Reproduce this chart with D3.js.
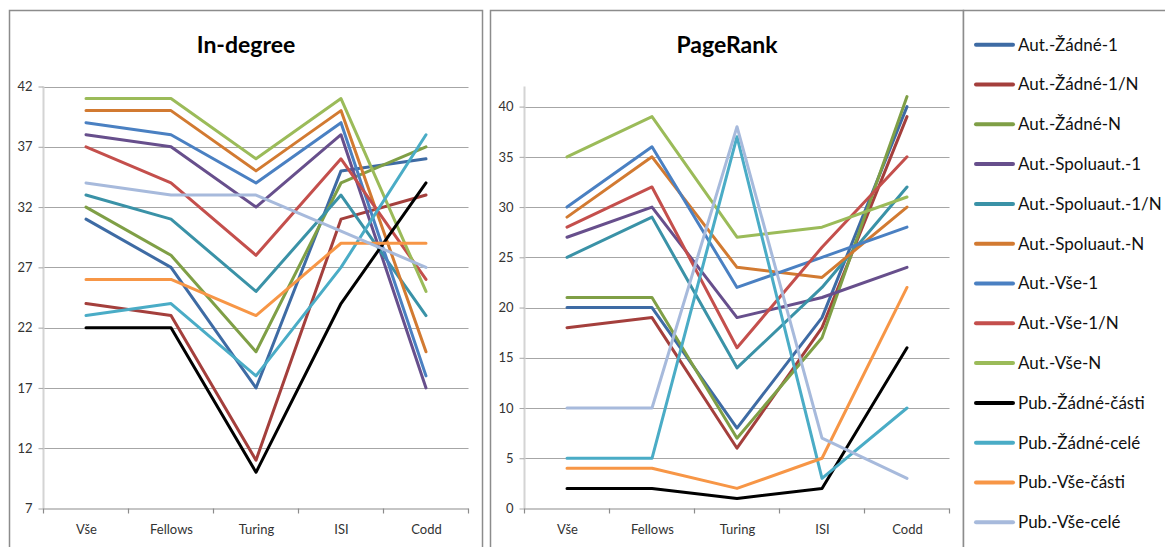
<!DOCTYPE html>
<html><head><meta charset="utf-8">
<script src="https://cdn.jsdelivr.net/npm/d3@7"></script>
<style>
html,body{margin:0;padding:0;background:#fff;}
svg{display:block;}
text{font-family:Lato,"Open Sans",sans-serif;}
</style></head>
<body>
<svg id="c" width="1165" height="547"></svg>
<script>
const categories = ["Vše","Fellows","Turing","ISI","Codd"];
const seriesNames = ["Aut.-Žádné-1","Aut.-Žádné-1/N","Aut.-Žádné-N","Aut.-Spoluaut.-1","Aut.-Spoluaut.-1/N","Aut.-Spoluaut.-N","Aut.-Vše-1","Aut.-Vše-1/N","Aut.-Vše-N","Pub.-Žádné-části","Pub.-Žádné-celé","Pub.-Vše-části","Pub.-Vše-celé"];
const seriesColors = ["#3e6ba4","#a43f3c","#7f9f46","#674f8c","#3a92a7","#d27a31","#4a80c2","#c44f4c","#9bbb59","#000000","#4aacc6","#f79646","#a7badc"];

const inDegree = [
  [31,27,17,35,36],
  [24,23,11,31,33],
  [32,28,20,34,37],
  [38,37,32,38,17],
  [33,31,25,33,23],
  [40,40,35,40,20],
  [39,38,34,39,18],
  [37,34,28,36,26],
  [41,41,36,41,25],
  [22,22,10,24,34],
  [23,24,18,27,38],
  [26,26,23,29,29],
  [34,33,33,30,27]
];
const pageRank = [
  [20,20,8,19,40],
  [18,19,6,18,39],
  [21,21,7,17,41],
  [27,30,19,21,24],
  [25,29,14,22,32],
  [29,35,24,23,30],
  [30,36,22,25,28],
  [28,32,16,26,35],
  [35,39,27,28,31],
  [2,2,1,2,16],
  [5,5,37,3,10],
  [4,4,2,5,22],
  [10,10,38,7,3]
];
const inDegreeTicks = [7,12,17,22,27,32,37,42];
const pageRankTicks = [0,5,10,15,20,25,30,35,40];
const inDegreeDomain = [7,42];
const pageRankDomain = [0,42];

const svg = d3.select("#c");

// panel frames
const frames = [[9.5,482.5],[490.5,963.5],[963.5,1175]];
frames.forEach(f=>{
  svg.append("rect").attr("x",f[0]).attr("y",10.5).attr("width",f[1]-f[0]).attr("height",560)
    .attr("fill","#fff").attr("stroke","#8c8c8c").attr("stroke-width",1.5);
});

function drawPanel(opt){
  const g = svg.append("g");
  const x = d3.scalePoint().domain(categories).range([opt.x0,opt.x1]).padding(0.5);
  const y = d3.scaleLinear().domain(opt.domain).range([508.5,86.5]);
  // gridlines
  g.append("g").selectAll("line").data(opt.ticks.filter(t=>t!==opt.domain[0])).join("line")
    .attr("x1",opt.x0).attr("x2",opt.x1)
    .attr("y1",d=>Math.round(y(d))+0.5).attr("y2",d=>Math.round(y(d))+0.5)
    .attr("stroke","#a6a6a6").attr("stroke-width",1.2);
  // y axis line
  g.append("line").attr("x1",opt.x0).attr("x2",opt.x0).attr("y1",y(opt.domain[1])).attr("y2",y(opt.domain[0]))
    .attr("stroke","#d4d4d4").attr("stroke-width",2);
  // y axis
  const ya = d3.axisLeft(y).tickValues(opt.ticks).tickSize(5).tickPadding(6).tickFormat(d3.format("d"));
  const yg = g.append("g").attr("transform",`translate(${opt.x0},0)`).call(ya);
  yg.select(".domain").remove();
  yg.selectAll(".tick line").attr("stroke","#a6a6a6");
  yg.selectAll(".tick text").attr("fill","#333").style("font-size","13px");
  // x axis
  const step = x.step();
  const xa = d3.axisBottom(x).tickSize(0).tickPadding(16);
  const xg = g.append("g").attr("transform",`translate(0,${y(opt.domain[0])})`).call(xa);
  xg.select(".domain").attr("stroke","#8c8c8c").attr("stroke-width",1.2).attr("d",`M${opt.x0},0.5H${opt.x1}`);
  xg.selectAll(".tick text").attr("fill","#333").style("font-size","13px");
  g.append("g").selectAll("line").data(d3.range(categories.length+1)).join("line")
    .attr("x1",i=>opt.x0+i*step).attr("x2",i=>opt.x0+i*step)
    .attr("y1",y(opt.domain[0])).attr("y2",y(opt.domain[0])+5)
    .attr("stroke","#8c8c8c").attr("stroke-width",1.2);
  // lines
  const line = d3.line().x((d,i)=>x(categories[i])).y(d=>y(d));
  g.append("g").selectAll("path").data(opt.data).join("path")
    .attr("d",line).attr("fill","none")
    .attr("stroke",(d,i)=>seriesColors[i]).attr("stroke-width",3)
    .attr("stroke-linejoin","round").attr("stroke-linecap","round");
  // title
  g.append("text").attr("x",opt.tx).attr("y",53).attr("text-anchor","middle")
    .style("font-size","23px").style("font-weight","bold").attr("fill","#000").text(opt.title);
}

drawPanel({x0:43.5,x1:468.5,domain:inDegreeDomain,ticks:inDegreeTicks,data:inDegree,title:"In-degree",tx:246});
drawPanel({x0:524.5,x1:949.5,domain:pageRankDomain,ticks:pageRankTicks,data:pageRank,title:"PageRank",tx:727});

// legend
const ly = d3.scalePoint().domain(seriesNames).range([44.7,522.3]);
const lg = svg.append("g").selectAll("g").data(seriesNames).join("g")
  .attr("transform",d=>`translate(0,${ly(d)})`);
lg.append("line").attr("x1",976).attr("x2",1013).attr("y1",0).attr("y2",0)
  .attr("stroke",(d,i)=>seriesColors[i]).attr("stroke-width",4).attr("stroke-linecap","round");
lg.append("text").attr("x",1018).attr("y",0).attr("dy","0.35em")
  .style("font-size","17px").attr("fill","#111").text(d=>d);
</script>
</body></html>
